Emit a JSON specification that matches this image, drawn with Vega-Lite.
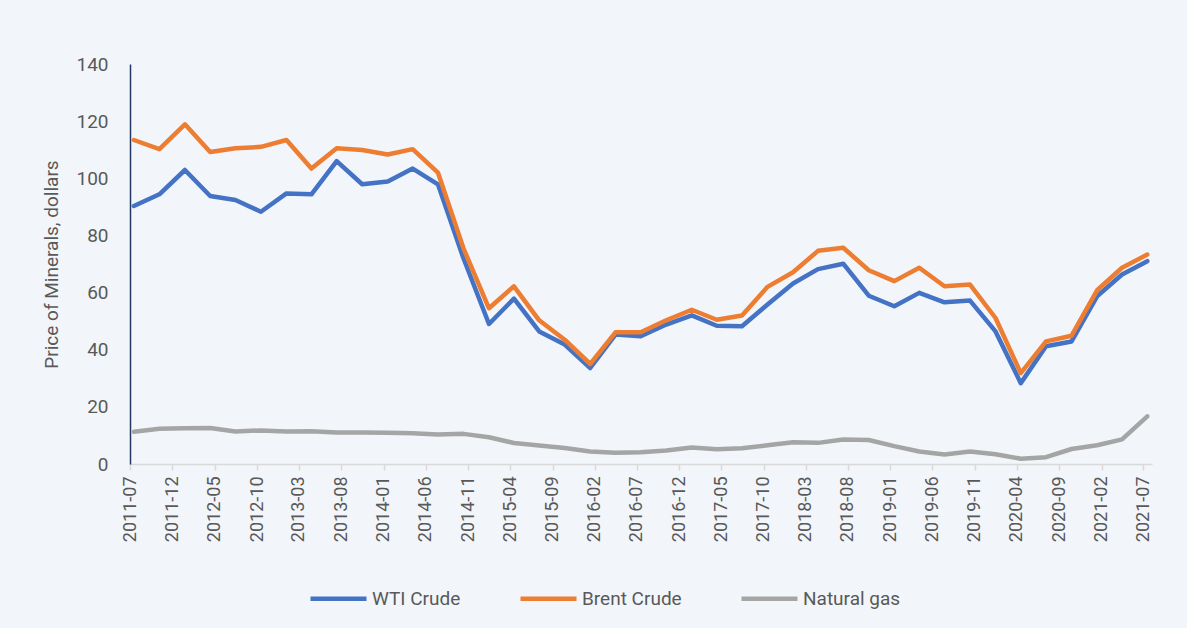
{
  "$schema": "https://vega.github.io/schema/vega-lite/v6.json",
  "width": 1022,
  "height": 400,
  "autosize": {"type": "none"},
  "padding": {"left": 130, "top": 64, "right": 35, "bottom": 164},
  "background": "#F2F6FA",
  "config": {"view": {"stroke": null}, "font": "Roboto"},
  "data": {"values": [
    {"date":"2011-07-15","series":"WTI Crude","price":90.3},
    {"date":"2011-10-15","series":"WTI Crude","price":94.4},
    {"date":"2012-01-15","series":"WTI Crude","price":102.9},
    {"date":"2012-04-15","series":"WTI Crude","price":93.8},
    {"date":"2012-07-15","series":"WTI Crude","price":92.4},
    {"date":"2012-10-15","series":"WTI Crude","price":88.3},
    {"date":"2013-01-15","series":"WTI Crude","price":94.7},
    {"date":"2013-04-15","series":"WTI Crude","price":94.4},
    {"date":"2013-07-15","series":"WTI Crude","price":106.0},
    {"date":"2013-10-15","series":"WTI Crude","price":97.9},
    {"date":"2014-01-15","series":"WTI Crude","price":98.9},
    {"date":"2014-04-15","series":"WTI Crude","price":103.4},
    {"date":"2014-07-15","series":"WTI Crude","price":97.9},
    {"date":"2014-10-15","series":"WTI Crude","price":72.0},
    {"date":"2015-01-15","series":"WTI Crude","price":49.0},
    {"date":"2015-04-15","series":"WTI Crude","price":57.9},
    {"date":"2015-07-15","series":"WTI Crude","price":46.4},
    {"date":"2015-10-15","series":"WTI Crude","price":41.8},
    {"date":"2016-01-15","series":"WTI Crude","price":33.6},
    {"date":"2016-04-15","series":"WTI Crude","price":45.3},
    {"date":"2016-07-15","series":"WTI Crude","price":44.7},
    {"date":"2016-10-15","series":"WTI Crude","price":48.8},
    {"date":"2017-01-15","series":"WTI Crude","price":52.0},
    {"date":"2017-04-15","series":"WTI Crude","price":48.4},
    {"date":"2017-07-15","series":"WTI Crude","price":48.2},
    {"date":"2017-10-15","series":"WTI Crude","price":55.8},
    {"date":"2018-01-15","series":"WTI Crude","price":63.2},
    {"date":"2018-04-15","series":"WTI Crude","price":68.2},
    {"date":"2018-07-15","series":"WTI Crude","price":70.1},
    {"date":"2018-10-15","series":"WTI Crude","price":58.9},
    {"date":"2019-01-15","series":"WTI Crude","price":55.2},
    {"date":"2019-04-15","series":"WTI Crude","price":59.9},
    {"date":"2019-07-15","series":"WTI Crude","price":56.6},
    {"date":"2019-10-15","series":"WTI Crude","price":57.2},
    {"date":"2020-01-15","series":"WTI Crude","price":46.4},
    {"date":"2020-04-15","series":"WTI Crude","price":28.3},
    {"date":"2020-07-15","series":"WTI Crude","price":41.2},
    {"date":"2020-10-15","series":"WTI Crude","price":42.9},
    {"date":"2021-01-15","series":"WTI Crude","price":58.7},
    {"date":"2021-04-15","series":"WTI Crude","price":66.3},
    {"date":"2021-07-15","series":"WTI Crude","price":71.0},
    {"date":"2011-07-15","series":"Brent Crude","price":113.4},
    {"date":"2011-10-15","series":"Brent Crude","price":110.2},
    {"date":"2012-01-15","series":"Brent Crude","price":118.9},
    {"date":"2012-04-15","series":"Brent Crude","price":109.2},
    {"date":"2012-07-15","series":"Brent Crude","price":110.5},
    {"date":"2012-10-15","series":"Brent Crude","price":111.0},
    {"date":"2013-01-15","series":"Brent Crude","price":113.4},
    {"date":"2013-04-15","series":"Brent Crude","price":103.4},
    {"date":"2013-07-15","series":"Brent Crude","price":110.5},
    {"date":"2013-10-15","series":"Brent Crude","price":109.9},
    {"date":"2014-01-15","series":"Brent Crude","price":108.3},
    {"date":"2014-04-15","series":"Brent Crude","price":110.2},
    {"date":"2014-07-15","series":"Brent Crude","price":102.0},
    {"date":"2014-10-15","series":"Brent Crude","price":75.5},
    {"date":"2015-01-15","series":"Brent Crude","price":54.5},
    {"date":"2015-04-15","series":"Brent Crude","price":62.2},
    {"date":"2015-07-15","series":"Brent Crude","price":50.3},
    {"date":"2015-10-15","series":"Brent Crude","price":43.5},
    {"date":"2016-01-15","series":"Brent Crude","price":35.0},
    {"date":"2016-04-15","series":"Brent Crude","price":46.1},
    {"date":"2016-07-15","series":"Brent Crude","price":46.1},
    {"date":"2016-10-15","series":"Brent Crude","price":50.3},
    {"date":"2017-01-15","series":"Brent Crude","price":54.0},
    {"date":"2017-04-15","series":"Brent Crude","price":50.5},
    {"date":"2017-07-15","series":"Brent Crude","price":52.0},
    {"date":"2017-10-15","series":"Brent Crude","price":62.0},
    {"date":"2018-01-15","series":"Brent Crude","price":67.1},
    {"date":"2018-04-15","series":"Brent Crude","price":74.6},
    {"date":"2018-07-15","series":"Brent Crude","price":75.7},
    {"date":"2018-10-15","series":"Brent Crude","price":67.8},
    {"date":"2019-01-15","series":"Brent Crude","price":64.0},
    {"date":"2019-04-15","series":"Brent Crude","price":68.7},
    {"date":"2019-07-15","series":"Brent Crude","price":62.2},
    {"date":"2019-10-15","series":"Brent Crude","price":62.8},
    {"date":"2020-01-15","series":"Brent Crude","price":51.1},
    {"date":"2020-04-15","series":"Brent Crude","price":31.8},
    {"date":"2020-07-15","series":"Brent Crude","price":42.9},
    {"date":"2020-10-15","series":"Brent Crude","price":44.9},
    {"date":"2021-01-15","series":"Brent Crude","price":60.8},
    {"date":"2021-04-15","series":"Brent Crude","price":68.7},
    {"date":"2021-07-15","series":"Brent Crude","price":73.3},
    {"date":"2011-07-15","series":"Natural gas","price":11.3},
    {"date":"2011-10-15","series":"Natural gas","price":12.3},
    {"date":"2012-01-15","series":"Natural gas","price":12.5},
    {"date":"2012-04-15","series":"Natural gas","price":12.6},
    {"date":"2012-07-15","series":"Natural gas","price":11.4},
    {"date":"2012-10-15","series":"Natural gas","price":11.75},
    {"date":"2013-01-15","series":"Natural gas","price":11.4},
    {"date":"2013-04-15","series":"Natural gas","price":11.5},
    {"date":"2013-07-15","series":"Natural gas","price":11.05},
    {"date":"2013-10-15","series":"Natural gas","price":11.05},
    {"date":"2014-01-15","series":"Natural gas","price":10.9},
    {"date":"2014-04-15","series":"Natural gas","price":10.8},
    {"date":"2014-07-15","series":"Natural gas","price":10.35},
    {"date":"2014-10-15","series":"Natural gas","price":10.55},
    {"date":"2015-01-15","series":"Natural gas","price":9.35},
    {"date":"2015-04-15","series":"Natural gas","price":7.35},
    {"date":"2015-07-15","series":"Natural gas","price":6.5},
    {"date":"2015-10-15","series":"Natural gas","price":5.6},
    {"date":"2016-01-15","series":"Natural gas","price":4.4},
    {"date":"2016-04-15","series":"Natural gas","price":3.95},
    {"date":"2016-07-15","series":"Natural gas","price":4.1},
    {"date":"2016-10-15","series":"Natural gas","price":4.7},
    {"date":"2017-01-15","series":"Natural gas","price":5.75},
    {"date":"2017-04-15","series":"Natural gas","price":5.15},
    {"date":"2017-07-15","series":"Natural gas","price":5.55},
    {"date":"2017-10-15","series":"Natural gas","price":6.55},
    {"date":"2018-01-15","series":"Natural gas","price":7.65},
    {"date":"2018-04-15","series":"Natural gas","price":7.4},
    {"date":"2018-07-15","series":"Natural gas","price":8.6},
    {"date":"2018-10-15","series":"Natural gas","price":8.4},
    {"date":"2019-01-15","series":"Natural gas","price":6.25},
    {"date":"2019-04-15","series":"Natural gas","price":4.35},
    {"date":"2019-07-15","series":"Natural gas","price":3.3},
    {"date":"2019-10-15","series":"Natural gas","price":4.35},
    {"date":"2020-01-15","series":"Natural gas","price":3.4},
    {"date":"2020-04-15","series":"Natural gas","price":1.85},
    {"date":"2020-07-15","series":"Natural gas","price":2.4},
    {"date":"2020-10-15","series":"Natural gas","price":5.25},
    {"date":"2021-01-15","series":"Natural gas","price":6.55},
    {"date":"2021-04-15","series":"Natural gas","price":8.6},
    {"date":"2021-07-15","series":"Natural gas","price":16.7}
  ]},
  "mark": {"type": "line", "strokeWidth": 4.5, "strokeJoin": "round", "strokeCap": "round"},
  "encoding": {
    "x": {
      "field": "date", "type": "temporal",
      "scale": {"type": "utc", "domain": [{"year": 2011, "month": 7, "date": 1, "utc": true}, {"year": 2021, "month": 8, "date": 1, "utc": true}]},
      "axis": {
        "title": null, "grid": false, "format": "%Y-%m", "labelAngle": 270,
        "labelFlush": false, "labelOverlap": false, "labelBound": false,
        "values": [
          {"year":2011,"month":7,"date":1,"utc":true},{"year":2011,"month":12,"date":1,"utc":true},
          {"year":2012,"month":5,"date":1,"utc":true},{"year":2012,"month":10,"date":1,"utc":true},
          {"year":2013,"month":3,"date":1,"utc":true},{"year":2013,"month":8,"date":1,"utc":true},
          {"year":2014,"month":1,"date":1,"utc":true},{"year":2014,"month":6,"date":1,"utc":true},
          {"year":2014,"month":11,"date":1,"utc":true},{"year":2015,"month":4,"date":1,"utc":true},
          {"year":2015,"month":9,"date":1,"utc":true},{"year":2016,"month":2,"date":1,"utc":true},
          {"year":2016,"month":7,"date":1,"utc":true},{"year":2016,"month":12,"date":1,"utc":true},
          {"year":2017,"month":5,"date":1,"utc":true},{"year":2017,"month":10,"date":1,"utc":true},
          {"year":2018,"month":3,"date":1,"utc":true},{"year":2018,"month":8,"date":1,"utc":true},
          {"year":2019,"month":1,"date":1,"utc":true},{"year":2019,"month":6,"date":1,"utc":true},
          {"year":2019,"month":11,"date":1,"utc":true},{"year":2020,"month":4,"date":1,"utc":true},
          {"year":2020,"month":9,"date":1,"utc":true},{"year":2021,"month":2,"date":1,"utc":true},
          {"year":2021,"month":7,"date":1,"utc":true}
        ],
        "domainColor": "#D9D9D9", "domainWidth": 1.5,
        "tickColor": "#D9D9D9", "tickWidth": 1.5, "tickSize": 6,
        "labelFontSize": 18, "labelColor": "#595959", "labelPadding": 6
      }
    },
    "y": {
      "field": "price", "type": "quantitative",
      "scale": {"domain": [0, 140], "nice": false},
      "axis": {
        "title": "Price of Minerals, dollars", "titleFontSize": 19, "titleFontWeight": "normal",
        "titleColor": "#595959", "titlePadding": 14,
        "values": [0, 20, 40, 60, 80, 100, 120, 140],
        "grid": false, "ticks": false, "labelPadding": 22,
        "domainColor": "#203864", "domainWidth": 1.5,
        "labelFontSize": 19, "labelColor": "#595959"
      }
    },
    "color": {
      "field": "series", "type": "nominal",
      "scale": {"domain": ["WTI Crude", "Brent Crude", "Natural gas"], "range": ["#4472C4", "#ED7D31", "#A5A5A5"]},
      "legend": {
        "title": null, "orient": "none", "legendX": 178, "legendY": 504, "direction": "horizontal",
        "symbolType": "stroke", "symbolSize": 3136, "symbolStrokeWidth": 4.5,
        "labelFontSize": 19, "labelColor": "#595959", "labelOffset": 3, "columnPadding": 50
      }
    }
  }
}
